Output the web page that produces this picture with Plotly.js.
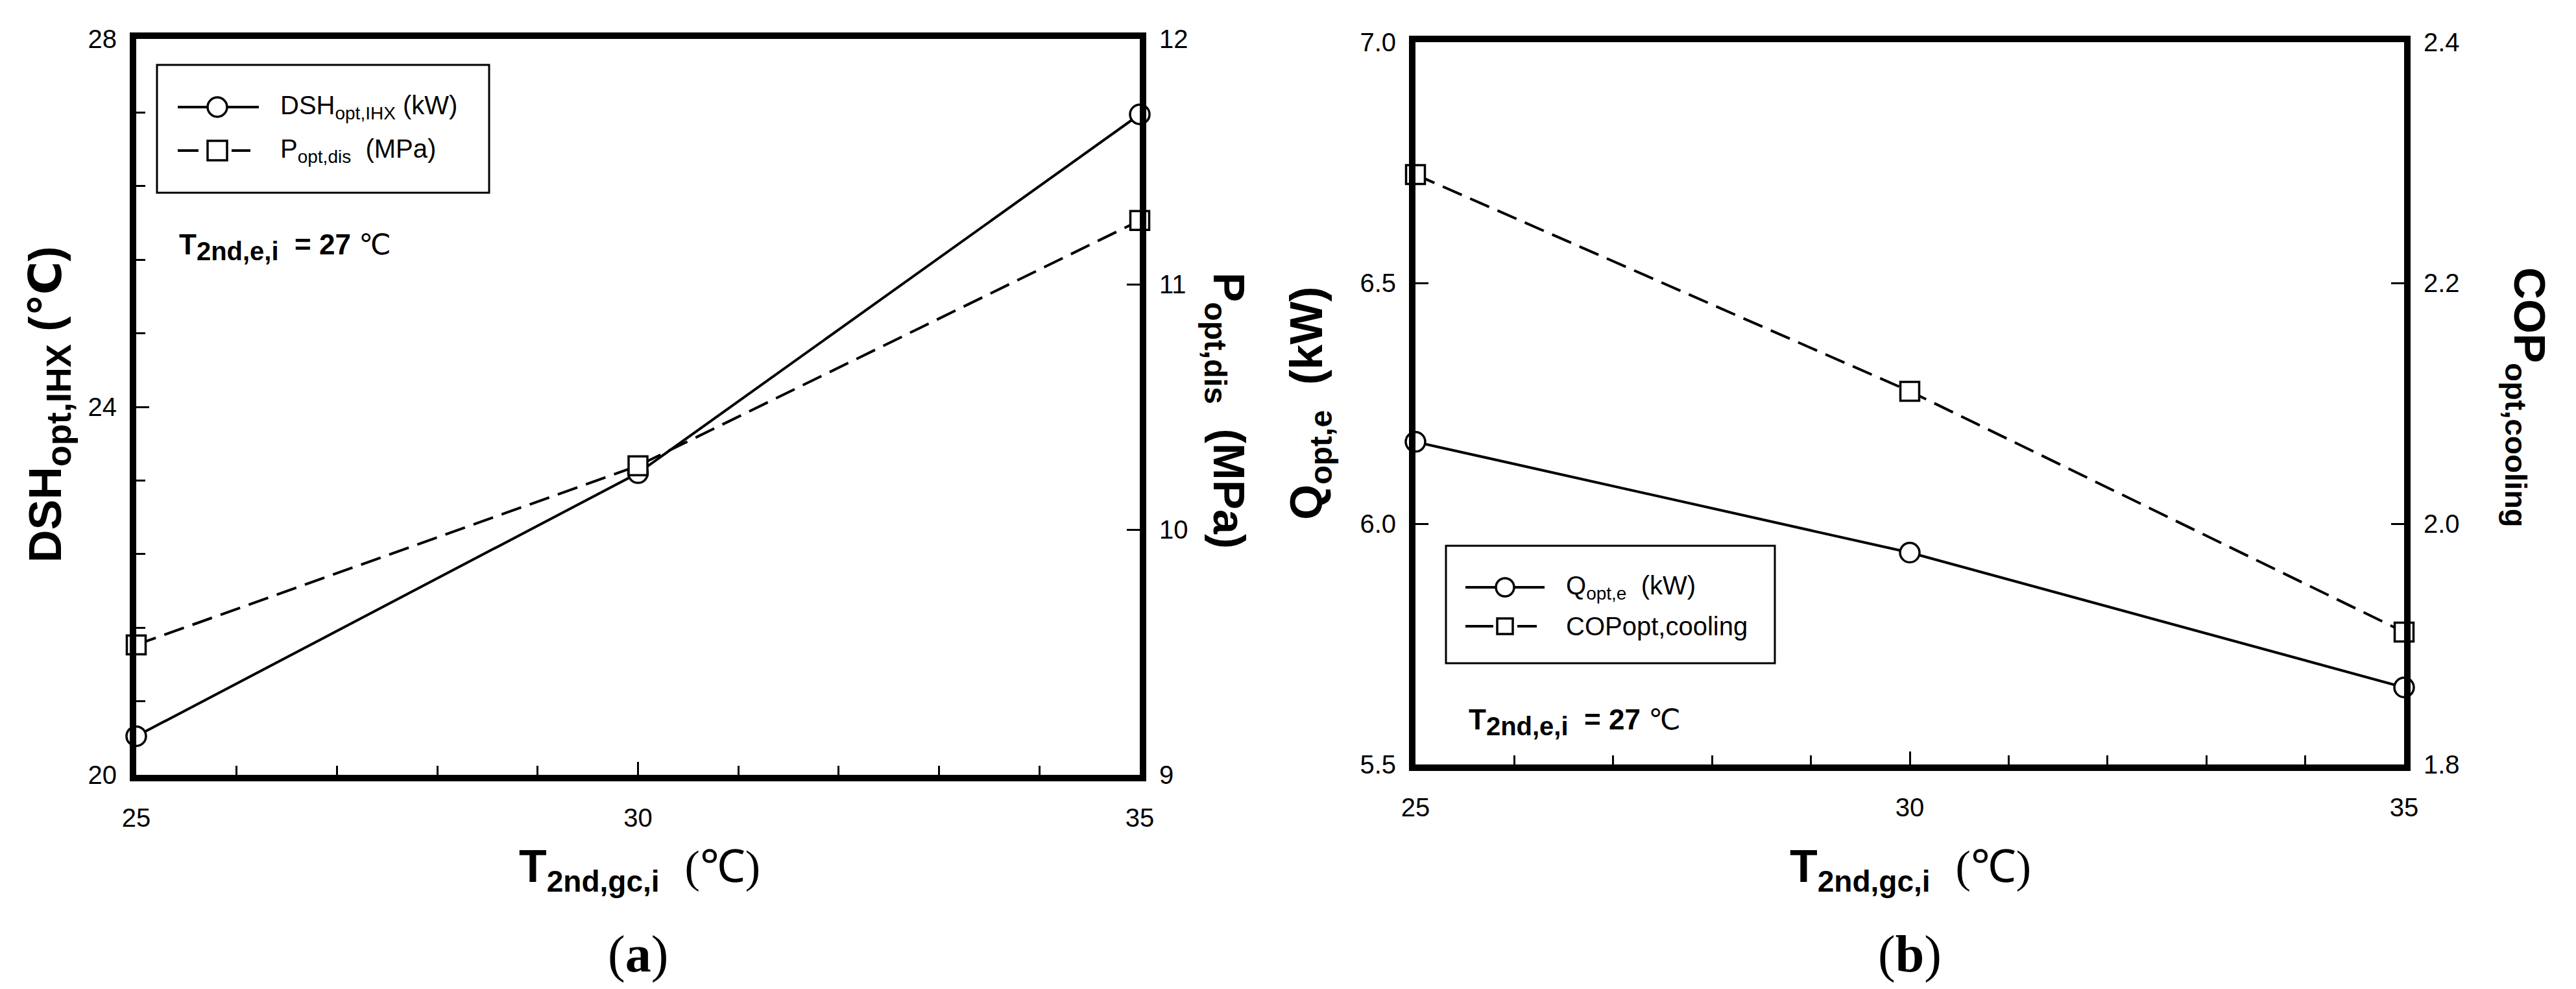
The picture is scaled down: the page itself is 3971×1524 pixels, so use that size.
<!DOCTYPE html>
<html>
<head>
<meta charset="utf-8">
<script src="https://cdn.plot.ly/plotly-3.0.1.min.js"></script>
<style>
  html, body { margin: 0; padding: 0; background: #fff; }
  #graph { width: 3971px; height: 1524px; }
</style>
</head>
<body>
<div id="graph"></div>
<script>
//*****Data
var tempGc = [25, 30, 35];            // T2nd,gc,i (℃)
var dshIhx = [20.42, 23.28, 27.18];   // DSHopt,IHX (℃)
var pDis = [9.53, 10.26, 11.26];      // Popt,dis (MPa)
var qEvap = [6.17, 5.94, 5.66];       // Qopt,e (kW)
var copCool = [2.29, 2.11, 1.91];     // COPopt,cooling

var legendA = ['DSH<sub>opt,IHX</sub> (kW)', 'P<sub>opt,dis</sub>\u00a0\u00a0(MPa)'];
var legendB = ['Q<sub>opt,e</sub>\u00a0\u00a0(kW)', 'COPopt,cooling'];

//*****Page helpers (page pixels -> paper fractions)
var W = 3971, H = 1524;
function px(x) { return x / W; }
function py(y) { return 1 - y / H; }

var FONT = 'Liberation Sans, Arial, DejaVu Sans, sans-serif';

var solidLine = {color: 'black', width: 4};
var dashLine = {color: 'black', width: 4, dash: '32px,14px'};
var circleMarker = {symbol: 'circle', size: 30, color: 'white', line: {color: 'black', width: 3.5}};
var squareMarker = {symbol: 'square', size: 29, color: 'white', line: {color: 'black', width: 3.5}};

var data = [
  {x: tempGc, y: dshIhx, xaxis: 'x', yaxis: 'y', type: 'scatter', mode: 'lines+markers',
   line: solidLine, marker: circleMarker, cliponaxis: false, showlegend: false},
  {x: tempGc, y: pDis, xaxis: 'x', yaxis: 'y2', type: 'scatter', mode: 'lines+markers',
   line: dashLine, marker: squareMarker, cliponaxis: false, showlegend: false},
  {x: tempGc, y: qEvap, xaxis: 'x2', yaxis: 'y3', type: 'scatter', mode: 'lines+markers',
   line: solidLine, marker: circleMarker, cliponaxis: false, showlegend: false},
  {x: tempGc, y: copCool, xaxis: 'x2', yaxis: 'y4', type: 'scatter', mode: 'lines+markers',
   line: dashLine, marker: squareMarker, cliponaxis: false, showlegend: false}
];

var axis_layout = {
  showgrid: false,
  zeroline: false,
  showline: true,
  linecolor: 'black',
  linewidth: 10,
  ticks: 'inside',
  ticklen: 20,
  tickwidth: 3,
  tickcolor: 'black',
  tickfont: {family: FONT, size: 40, color: 'black'},
  fixedrange: true
};

function axis(extra) { return Object.assign({}, axis_layout, extra); }

var minorX = {dtick: 1, tick0: 25, ticks: 'inside', ticklen: 14, tickwidth: 3, tickcolor: 'black'};

var domA = [px(210), px(1757)];
var domB = [px(2182), px(3706)];
var domAy = [py(1194), py(60)];
var domBy = [py(1178), py(65)];

var layout = {
  width: W,
  height: H,
  margin: {l: 0, r: 0, t: 0, b: 0},
  paper_bgcolor: 'white',
  plot_bgcolor: 'white',
  showlegend: false,
  xaxis: axis({domain: domA, anchor: 'y', range: [25, 35], tick0: 25, dtick: 5, mirror: true,
               minor: minorX, ticklabelstandoff: 22}),
  yaxis: axis({domain: domAy, anchor: 'x', range: [20, 28], tick0: 20, dtick: 4, mirror: true,
               ticklabelstandoff: 12,
               minor: {dtick: 0.8, tick0: 20, ticks: 'inside', ticklen: 14, tickwidth: 3, tickcolor: 'black'}}),
  yaxis2: axis({overlaying: 'y', side: 'right', anchor: 'x', range: [9, 12], tick0: 9, dtick: 1,
                ticklabelstandoff: 12}),
  xaxis2: axis({domain: domB, anchor: 'y3', range: [25, 35], tick0: 25, dtick: 5, mirror: true,
                minor: minorX, ticklabelstandoff: 22}),
  yaxis3: axis({domain: domBy, anchor: 'x2', range: [5.5, 7.0], tick0: 5.5, dtick: 0.5,
                tickformat: '.1f', mirror: true, ticklabelstandoff: 12}),
  yaxis4: axis({overlaying: 'y3', side: 'right', anchor: 'x2', range: [1.8, 2.4], tick0: 1.8, dtick: 0.2,
                tickformat: '.1f', ticklabelstandoff: 12}),
  shapes: [],
  annotations: []
};

//*****Hand-drawn legends (box, symbol, label)
function addLegend(box, rows, symX, textX) {
  layout.shapes.push({type: 'rect', xref: 'paper', yref: 'paper',
    x0: px(box[0]), x1: px(box[1]), y0: py(box[3]), y1: py(box[2]),
    line: {color: 'black', width: 3}, fillcolor: 'rgba(0,0,0,0)'});
  rows.forEach(function (r) {
    r.segs.forEach(function (s) {
      layout.shapes.push({type: 'line', xref: 'paper', yref: 'paper',
        x0: px(s[0]), x1: px(s[1]), y0: py(r.y), y1: py(r.y), line: {color: 'black', width: 4}});
    });
    var h = r.size / 2;
    layout.shapes.push({type: r.kind, xref: 'paper', yref: 'paper',
      x0: px(symX - h), x1: px(symX + h), y0: py(r.y + h), y1: py(r.y - h),
      line: {color: 'black', width: 3.5}, fillcolor: 'white'});
    layout.annotations.push({xref: 'paper', yref: 'paper', x: px(textX), y: py(r.y),
      xanchor: 'left', yanchor: 'middle', showarrow: false, text: r.text,
      font: {family: FONT, size: 40, color: 'black'}});
  });
}

addLegend([242, 754, 100, 297], [
  {y: 165, kind: 'circle', size: 30, segs: [[274, 399]], text: legendA[0]},
  {y: 232, kind: 'rect', size: 30, segs: [[274, 306], [357, 386]], text: legendA[1]}
], 335, 430);

addLegend([2229, 2736, 841, 1022], [
  {y: 905, kind: 'circle', size: 28, segs: [[2259, 2381]], text: legendB[0]},
  {y: 965, kind: 'rect', size: 24, segs: [[2259, 2302], [2339, 2369]], text: legendB[1]}
], 2320, 2412);

//*****Titles and notes
function note(x, y, text, size, extra) {
  layout.annotations.push(Object.assign({xref: 'paper', yref: 'paper', x: px(x), y: py(y),
    xanchor: 'center', yanchor: 'middle', showarrow: false, text: text,
    font: {family: FONT, size: size, color: 'black'}}, extra || {}));
}

var xTitle = '<b>T<sub><span style="font-size:46px">2nd,gc,i</span></sub></b>\u00a0\u00a0' +
             '<span style="font-family:Liberation Serif">(℃)</span>';
note(986, 1340, xTitle, 70);
note(2945, 1340, xTitle, 70);

note(75, 623, '<b>DSH<sub><span style="font-size:54px">opt,IHX</span></sub>\u00a0(℃)</b>', 70, {textangle: -90});
note(1890, 633, '<b>P<sub><span style="font-size:48px">opt,dis</span></sub>\u00a0\u00a0(MPa)</b>', 68, {textangle: 90});
note(2019, 621, '<b>Q<sub><span style="font-size:48px">opt,e</span></sub>\u00a0\u00a0(kW)</b>', 70, {textangle: -90});
note(3895, 612, '<b>COP<sub><span style="font-size:47px">opt,cooling</span></sub></b>', 68, {textangle: 90});

var condNote = '<b>T<sub><span style="font-size:40px">2nd,e,i</span></sub>\u00a0\u00a0=\u00a027</b>\u00a0℃';
note(274, 380, condNote, 44, {xanchor: 'left'});
note(2262, 1112, condNote, 44, {xanchor: 'left'});

note(983, 1470, '(<b>a</b>)', 80, {font: {family: 'Liberation Serif, serif', size: 80, color: 'black'}});
note(2944, 1470, '(<b>b</b>)', 80, {font: {family: 'Liberation Serif, serif', size: 80, color: 'black'}});

function plotGraph() {
  Plotly.newPlot('graph', data, layout, {staticPlot: true, displayModeBar: false});
}
plotGraph();
</script>
</body>
</html>
